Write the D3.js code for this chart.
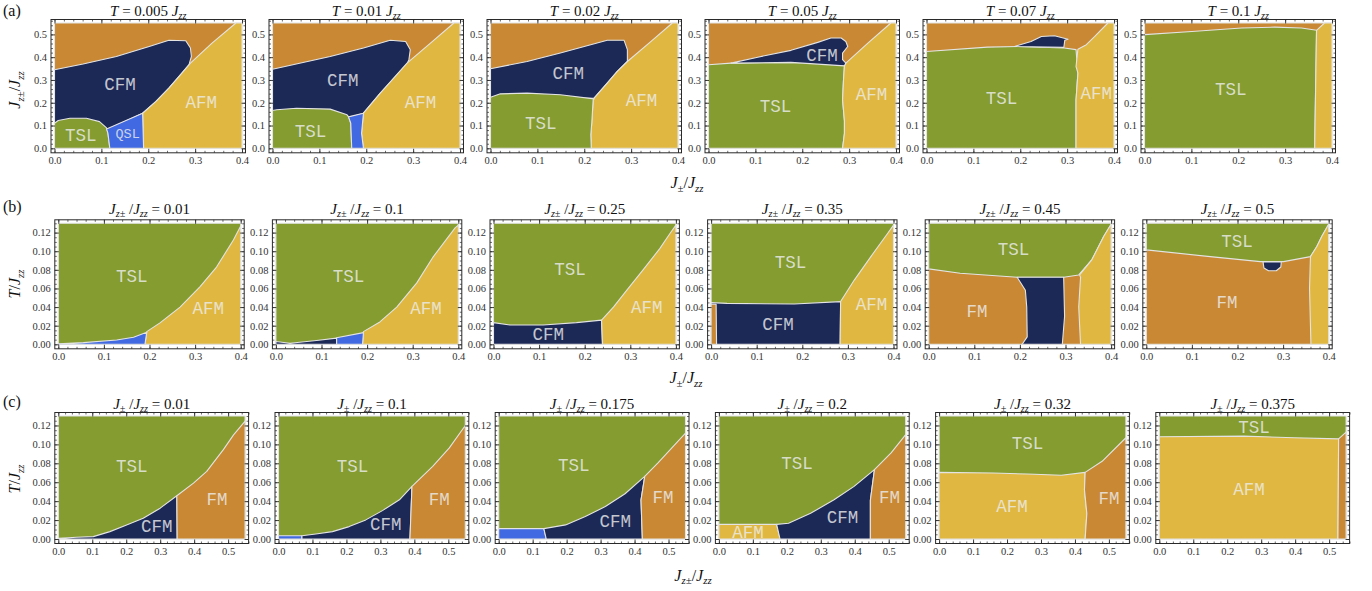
<!DOCTYPE html>
<html>
<head>
<meta charset="utf-8">
<script src="https://cdn.jsdelivr.net/npm/d3@7"></script>
<style>
body { margin: 0; background: #fff; }
svg text { font-family: 'Liberation Serif', 'Times New Roman', serif; }
</style>
</head>
<body>
<svg id="chart" width="1372" height="591"></svg>
<script>
// phases
const phaseNames = ['FM', 'CFM', 'AFM', 'TSL', 'QSL']
const phaseColors = ['#c98833', '#1c2957', '#e0b841', '#849c30', '#4169e1']

// axis extents and ticks
const jpmRange = [0, 0.4]
const jzpmRange = [0, 0.55]
const tempRange = [0, 0.13]
const jpmTicks = [0, 0.1, 0.2, 0.3, 0.4]
const jzpmYTicks = [0, 0.1, 0.2, 0.3, 0.4, 0.5]
const jzpmXTicks = [0, 0.1, 0.2, 0.3, 0.4, 0.5]
const tempTicks = [0, 0.02, 0.04, 0.06, 0.08, 0.10, 0.12]

// panel parameters
const rowATitles = ['0.005', '0.01', '0.02', '0.05', '0.07', '0.1']
const rowBTitles = ['0.01', '0.1', '0.25', '0.35', '0.45', '0.5']
const rowCTitles = ['0.01', '0.1', '0.175', '0.2', '0.32', '0.375']

// phase filling the whole panel before the regions are laid on top
const rowABases = ['FM', 'FM', 'FM', 'FM', 'FM', 'FM']
const rowBBases = ['TSL', 'TSL', 'TSL', 'TSL', 'FM', 'FM']
const rowCBases = ['TSL', 'TSL', 'TSL', 'TSL', 'TSL', 'TSL']

// (a) x = J+-/Jzz, y = Jz+-/Jzz
const a1Regions = [
	['CFM', [[0,0.345],[0.061,0.37],[0.132,0.403],[0.202,0.447],[0.244,0.474],[0.28,0.472],[0.29,0.44],[0.292,0.403],[0.287,0.367],[0.269,0.323],[0.244,0.264],[0.216,0.205],[0.188,0.154],[0.114,0.082],[0,0.1]]],
	['AFM', [[0.387,0.55],[0.4,0.55],[0.4,0],[0.19,0],[0.188,0.154],[0.216,0.205],[0.244,0.264],[0.269,0.323],[0.29,0.374],[0.336,0.462]]],
	['TSL', [[0,0],[0,0.11],[0.008,0.122],[0.033,0.132],[0.068,0.132],[0.096,0.117],[0.111,0.09],[0.114,0.066],[0.118,0]]],
	['QSL', [[0.118,0],[0.114,0.066],[0.111,0.085],[0.188,0.154],[0.19,0]]]
]
const a1Labels = [['CFM',0.14,0.279],['AFM',0.313,0.198],['TSL',0.056,0.054],['QSL',0.156,0.059]]

const a2Regions = [
	['CFM', [[0,0.347],[0.123,0.403],[0.194,0.44],[0.251,0.474],[0.284,0.469],[0.294,0.433],[0.291,0.389],[0.287,0.371],[0.23,0.242],[0.194,0.154],[0.166,0.136],[0,0.15]]],
	['AFM', [[0.387,0.55],[0.4,0.55],[0.4,0],[0.194,0],[0.19,0.066],[0.194,0.154],[0.23,0.242],[0.287,0.374],[0.337,0.462]]],
	['TSL', [[0,0],[0,0.166],[0.009,0.169],[0.051,0.176],[0.123,0.172],[0.159,0.147],[0.162,0.139],[0.167,0.11],[0.169,0]]],
	['QSL', [[0.169,0],[0.167,0.11],[0.162,0.139],[0.166,0.14],[0.194,0.154],[0.19,0.066],[0.194,0]]]
]
const a2Labels = [['CFM',0.15,0.296],['AFM',0.316,0.198],['TSL',0.081,0.073]]

const a3Regions = [
	['CFM', [[0,0.349],[0.078,0.381],[0.149,0.418],[0.249,0.474],[0.285,0.474],[0.292,0.433],[0.292,0.381],[0.27,0.337],[0.249,0.286],[0.221,0.22],[0,0.22]]],
	['AFM', [[0.388,0.55],[0.4,0.55],[0.4,0],[0.215,0],[0.214,0.06],[0.216,0.11],[0.219,0.213],[0.221,0.22],[0.249,0.286],[0.27,0.337],[0.292,0.381],[0.34,0.465]]],
	['TSL', [[0,0],[0,0.224],[0.021,0.239],[0.078,0.242],[0.149,0.235],[0.221,0.217],[0.219,0.213],[0.216,0.11],[0.214,0.06],[0.215,0]]]
]
const a3Labels = [['CFM',0.166,0.327],['AFM',0.322,0.208],['TSL',0.107,0.107]]

const a4Regions = [
	['TSL', [[0,0],[0,0.367],[0.048,0.374],[0.176,0.377],[0.276,0.371],[0.29,0.362],[0.288,0.3],[0.286,0.213],[0.29,0.12],[0.29,0.066],[0.286,0]]],
	['AFM', [[0.389,0.55],[0.4,0.55],[0.4,0],[0.286,0],[0.29,0.066],[0.29,0.12],[0.286,0.213],[0.288,0.3],[0.29,0.362],[0.293,0.374],[0.34,0.462]]],
	['CFM', [[0.048,0.374],[0.105,0.4],[0.176,0.43],[0.233,0.465],[0.261,0.484],[0.283,0.484],[0.293,0.469],[0.297,0.447],[0.286,0.418],[0.286,0.389],[0.293,0.374],[0.29,0.362],[0.176,0.377]]]
]
const a4Labels = [['CFM',0.242,0.403],['AFM',0.348,0.232],['TSL',0.143,0.183]]

const a5Regions = [
	['TSL', [[0,0],[0,0.425],[0.13,0.444],[0.195,0.447],[0.294,0.44],[0.319,0.433],[0.323,0.33],[0.319,0.213],[0.319,0]]],
	['AFM', [[0.387,0.55],[0.4,0.55],[0.4,0],[0.319,0],[0.319,0.213],[0.323,0.33],[0.319,0.359],[0.323,0.435],[0.341,0.455],[0.359,0.491]]],
	['CFM', [[0.188,0.447],[0.223,0.469],[0.245,0.491],[0.273,0.494],[0.302,0.479],[0.295,0.474],[0.293,0.443]]]
]
const a5Labels = [['TSL',0.16,0.217],['AFM',0.362,0.239]]

const a6Regions = [
	['TSL', [[0,0],[0,0.499],[0.101,0.513],[0.207,0.528],[0.278,0.532],[0.335,0.528],[0.367,0.518],[0.363,0]]],
	['AFM', [[0.384,0.55],[0.4,0.55],[0.4,0],[0.363,0],[0.367,0.518]]]
]
const a6Labels = [['TSL',0.184,0.254]]

// (b) x = J+-/Jzz, y = T/Jzz
const b1Regions = [
	['AFM', [[0.19,0],[0.4,0],[0.4,0.127],[0.384,0.112],[0.347,0.083],[0.311,0.062],[0.267,0.04],[0.223,0.023],[0.194,0.0136]]],
	['QSL', [[0,0],[0,0.0005],[0.055,0.0018],[0.128,0.0047],[0.165,0.0075],[0.194,0.013],[0.19,0]]]
]
const b1Labels = [['TSL',0.161,0.0727],['AFM',0.329,0.0376]]

const b2Regions = [
	['AFM', [[0.19,0],[0.4,0],[0.4,0.128],[0.393,0.125],[0.345,0.094],[0.309,0.066],[0.265,0.04],[0.228,0.024],[0.192,0.0136]]],
	['QSL', [[0.133,0],[0.133,0.007],[0.192,0.0125],[0.19,0]]],
	['CFM', [[0,0],[0,0.003],[0.031,0.0012],[0.089,0.004],[0.133,0.0066],[0.133,0]]]
]
const b2Labels = [['TSL',0.159,0.0727],['AFM',0.329,0.0376]]

const b3Regions = [
	['CFM', [[0,0],[0,0.0233],[0.036,0.0208],[0.109,0.0208],[0.182,0.0233],[0.237,0.026],[0.239,0]]],
	['AFM', [[0.239,0],[0.4,0],[0.4,0.128],[0.387,0.119],[0.365,0.103],[0.328,0.08],[0.292,0.058],[0.263,0.04],[0.237,0.026]]]
]
const b3Labels = [['TSL',0.168,0.08],['CFM',0.12,0.01],['AFM',0.336,0.039]]

const b4Regions = [
	['CFM', [[0,0],[0,0.0448],[0.035,0.044],[0.182,0.0433],[0.284,0.0459],[0.283,0]]],
	['AFM', [[0.283,0],[0.4,0],[0.4,0.128],[0.387,0.119],[0.35,0.094],[0.314,0.069],[0.284,0.0459]]],
	['FM', [[0,0],[0,0.043],[0.011,0.043],[0.012,0]]]
]
const b4Labels = [['TSL',0.174,0.0878],['CFM',0.147,0.0208],['AFM',0.352,0.0423]]

const b5Regions = [
	['TSL', [[0,0.13],[0.4,0.13],[0.4,0.129],[0.384,0.116],[0.358,0.091],[0.329,0.0745],[0.296,0.072],[0.194,0.072],[0.069,0.0763],[0,0.081]]],
	['AFM', [[0.333,0],[0.4,0],[0.4,0.129],[0.384,0.116],[0.358,0.091],[0.331,0.0745],[0.333,0.072],[0.329,0.04]]],
	['CFM', [[0.205,0],[0.216,0.008],[0.215,0.04],[0.212,0.058],[0.194,0.072],[0.296,0.072],[0.298,0.03],[0.293,0]]]
]
const b5Labels = [['TSL',0.186,0.101],['FM',0.106,0.035]]

const b6Regions = [
	['TSL', [[0,0.13],[0.4,0.13],[0.4,0.129],[0.385,0.116],[0.374,0.105],[0.36,0.0942],[0.301,0.0888],[0.25,0.0888],[0.14,0.0942],[0,0.1014]]],
	['AFM', [[0.361,0],[0.4,0],[0.4,0.129],[0.385,0.116],[0.374,0.105],[0.36,0.0942],[0.358,0.06],[0.36,0.02]]],
	['CFM', [[0.256,0.0885],[0.296,0.0885],[0.295,0.083],[0.285,0.079],[0.268,0.079],[0.258,0.082]]]
]
const b6Labels = [['TSL',0.199,0.11],['FM',0.177,0.044]]

// (c) x = Jz+-/Jzz, y = T/Jzz
const c1Regions = [
	['CFM', [[0,0],[0,0.0007],[0.054,0.0018],[0.103,0.0025],[0.152,0.0078],[0.201,0.0149],[0.25,0.022],[0.3,0.0326],[0.349,0.0457],[0.35,0]]],
	['FM', [[0.35,0],[0.349,0.0457],[0.398,0.059],[0.437,0.0715],[0.486,0.0945],[0.516,0.11],[0.55,0.1246],[0.55,0]]]
]
const c1Labels = [['TSL',0.216,0.076],['CFM',0.29,0.013],['FM',0.467,0.041]]

const c2Regions = [
	['QSL', [[0,0],[0,0.0035],[0.069,0.0035],[0.069,0]]],
	['CFM', [[0.069,0],[0.069,0.0035],[0.11,0.0053],[0.159,0.0078],[0.208,0.0131],[0.257,0.0202],[0.306,0.03],[0.356,0.0414],[0.393,0.0556],[0.387,0]]],
	['FM', [[0.387,0],[0.393,0.0556],[0.454,0.0768],[0.503,0.0963],[0.55,0.12],[0.55,0]]]
]
const c2Labels = [['TSL',0.218,0.076],['CFM',0.316,0.015],['FM',0.473,0.041]]

const c3Regions = [
	['QSL', [[0,0],[0,0.011],[0.133,0.011],[0.14,0]]],
	['CFM', [[0.14,0],[0.133,0.011],[0.197,0.0149],[0.255,0.0237],[0.314,0.0343],[0.372,0.0478],[0.43,0.0662],[0.419,0.041],[0.423,0]]],
	['FM', [[0.423,0],[0.419,0.041],[0.43,0.0662],[0.469,0.0804],[0.55,0.112],[0.55,0]]]
]
const c3Labels = [['TSL',0.221,0.0775],['CFM',0.343,0.0184],['FM',0.484,0.0432]]

const c4Regions = [
	['AFM', [[0,0],[0,0.0155],[0.17,0.0155],[0.18,0]]],
	['CFM', [[0.18,0],[0.17,0.0155],[0.205,0.0166],[0.27,0.0272],[0.339,0.0414],[0.398,0.0556],[0.458,0.0733],[0.446,0.041],[0.446,0]]],
	['FM', [[0.446,0],[0.446,0.041],[0.458,0.0733],[0.507,0.091],[0.55,0.1104],[0.55,0]]]
]
const c4Labels = [['TSL',0.23,0.0796],['CFM',0.364,0.022],['FM',0.502,0.0432],['AFM',0.086,0.006]]

const c5Regions = [
	['AFM', [[0,0],[0,0.0704],[0.16,0.0697],[0.26,0.0687],[0.36,0.0673],[0.43,0.0704],[0.428,0.052],[0.435,0.027],[0.43,0]]],
	['FM', [[0.43,0],[0.435,0.027],[0.428,0.052],[0.43,0.0704],[0.48,0.0821],[0.55,0.107],[0.55,0]]]
]
const c5Labels = [['TSL',0.26,0.1005],['AFM',0.215,0.0336],['FM',0.5,0.042]]

const c6Regions = [
	['AFM', [[0,0],[0,0.108],[0.249,0.1087],[0.398,0.107],[0.528,0.1058],[0.526,0]]],
	['FM', [[0.526,0],[0.528,0.1058],[0.55,0.113],[0.55,0]]]
]
const c6Labels = [['TSL',0.279,0.1168],['AFM',0.264,0.052]]

let svg = d3.select('#chart')

let color = d3.scaleOrdinal()
	.domain(phaseNames)
	.range(phaseColors)

// title / axis label pieces: [text, kind] where kind is n(ormal), i(talic) or sub
let jzpm = [['J','i'],['z±','sub']]
let jpm = [['J','i'],['±','sub']]
let jzz = [['J','i'],['zz','sub']]
let temp = [['T','i']]

let rows = [
	{
		tag: '(a)', titles: rowATitles, bases: rowABases,
		regions: [a1Regions, a2Regions, a3Regions, a4Regions, a5Regions, a6Regions],
		labels: [a1Labels, a2Labels, a3Labels, a4Labels, a5Labels, a6Labels],
		xDomain: jpmRange, yDomain: jzpmRange, xTicks: jpmTicks, yTicks: jzpmYTicks,
		xMinor: 0.02, yMinor: 0.02, yFmt: '.1f',
		title: v => [['T','i'],[' = ' + v + ' ','n']].concat(jzz),
		xLabel: jpm.concat([['/','n']], jzz), yLabel: jzpm.concat([['/','n']], jzz),
		left0: 54.5, step: 218, width: 187.5, top: 23, bottom: 148.3,
		titleY: 16, tagY: 16, xLabelX: 687, xLabelY: 188, yLabelY: 90
	},
	{
		tag: '(b)', titles: rowBTitles, bases: rowBBases,
		regions: [b1Regions, b2Regions, b3Regions, b4Regions, b5Regions, b6Regions],
		labels: [b1Labels, b2Labels, b3Labels, b4Labels, b5Labels, b6Labels],
		xDomain: jpmRange, yDomain: tempRange, xTicks: jpmTicks, yTicks: tempTicks,
		xMinor: 0.02, yMinor: 0.005, yFmt: '.2f',
		title: v => jzpm.concat([[' /','n']], jzz, [[' = ' + v,'n']]),
		xLabel: jpm.concat([['/','n']], jzz), yLabel: temp.concat([['/','n']], jzz),
		left0: 58.3, step: 217.6, width: 182.4, top: 223.3, bottom: 344.3,
		titleY: 213.5, tagY: 211.5, xLabelX: 686, xLabelY: 383, yLabelY: 284
	},
	{
		tag: '(c)', titles: rowCTitles, bases: rowCBases,
		regions: [c1Regions, c2Regions, c3Regions, c4Regions, c5Regions, c6Regions],
		labels: [c1Labels, c2Labels, c3Labels, c4Labels, c5Labels, c6Labels],
		xDomain: jzpmRange, yDomain: tempRange, xTicks: jzpmXTicks, yTicks: tempTicks,
		xMinor: 0.02, yMinor: 0.005, yFmt: '.2f',
		title: v => jpm.concat([[' /','n']], jzz, [[' = ' + v,'n']]),
		xLabel: jzpm.concat([['/','n']], jzz), yLabel: temp.concat([['/','n']], jzz),
		left0: 58.3, step: 220.2, width: 186.8, top: 416, bottom: 539,
		titleY: 409, tagY: 406.5, xLabelX: 693, xLabelY: 580.5, yLabelY: 479
	}
]

let writeParts = (text, parts, size) => {
	let shift = 0
	parts.forEach(([s, kind]) => {
		let target = kind === 'sub' ? size * 0.22 : 0
		text.append('tspan')
			.attr('dy', target - shift)
			.attr('font-style', kind === 'n' ? 'normal' : 'italic')
			.attr('font-size', kind === 'sub' ? size * 0.68 : size)
			.text(s)
		shift = target
	})
}

let minorTicks = (domain, step) => d3.range(0, Math.round(domain[1] / step) + 1).map(k => +(k * step).toFixed(4))

let pad = { l: 3.5, r: 3.5, t: 3.5, b: 4.5 }

rows.forEach(row => {

	row.titles.forEach((val, i) => {

		let x0 = row.left0 + row.step * i

		let x = d3.scaleLinear()
			.domain(row.xDomain)
			.range([x0, x0 + row.width])

		let y = d3.scaleLinear()
			.domain(row.yDomain)
			.range([row.bottom, row.top])

		let line = d3.line()
			.x(d => x(d[0]))
			.y(d => y(d[1]))

		let g = svg.append('g')

		let [xa, xb] = row.xDomain
		let [ya, yb] = row.yDomain
		let layers = [[row.bases[i], [[xa, ya], [xb, ya], [xb, yb], [xa, yb]]]].concat(row.regions[i])

		g.selectAll('.region')
			.data(layers)
			.enter()
			.append('path')
			.attr('class', 'region')
			.attr('d', d => line(d[1]) + 'Z')
			.attr('fill', d => color(d[0]))
			.attr('stroke', '#e4e4e4')
			.attr('stroke-width', 1.1)
			.attr('stroke-linejoin', 'round')

		g.selectAll('.phase-label')
			.data(row.labels[i])
			.enter()
			.append('text')
			.attr('class', 'phase-label')
			.attr('x', d => x(d[1]))
			.attr('y', d => y(d[2]))
			.attr('text-anchor', 'middle')
			.attr('dominant-baseline', 'central')
			.style('font-family', "'Courier New', 'Liberation Mono', monospace")
			.attr('font-size', d => d[0] === 'QSL' ? 13.5 : 17.5)
			.attr('fill', '#ececec')
			.attr('fill-opacity', 0.82)
			.text(d => d[0])

		// frame
		let fx0 = x0 - pad.l
		let fx1 = x0 + row.width + pad.r
		let fy0 = row.top - pad.t
		let fy1 = row.bottom + pad.b

		g.append('rect')
			.attr('x', fx0)
			.attr('y', fy0)
			.attr('width', fx1 - fx0)
			.attr('height', fy1 - fy0)
			.attr('fill', 'none')
			.attr('stroke', '#2a2a2a')
			.attr('stroke-width', 1)

		let xMin = minorTicks(row.xDomain, row.xMinor)
		let yMin = minorTicks(row.yDomain, row.yMinor)

		let axes = [
			[d3.axisBottom(x), 'translate(0,' + fy1 + ')', row.xTicks, xMin, true],
			[d3.axisTop(x), 'translate(0,' + fy0 + ')', row.xTicks, xMin, false],
			[d3.axisLeft(y), 'translate(' + fx0 + ',0)', row.yTicks, yMin, true],
			[d3.axisRight(y), 'translate(' + fx1 + ',0)', row.yTicks, yMin, false]
		]

		axes.forEach(([axis, tr, major, minor, withText], k) => {
			let fmt = k < 2 ? d3.format('.1f') : d3.format(row.yFmt)
			g.append('g')
				.attr('transform', tr)
				.call(axis.tickValues(minor).tickSizeInner(-2).tickSizeOuter(0).tickFormat(''))
				.call(s => s.select('.domain').remove())
				.call(s => s.selectAll('line').attr('stroke', '#2a2a2a').attr('stroke-width', 0.7))
			let ga = g.append('g')
				.attr('transform', tr)
				.call(axis.tickValues(major).tickSizeInner(-4).tickSizeOuter(0).tickPadding(4)
					.tickFormat(withText ? fmt : ''))
				.call(s => s.select('.domain').remove())
				.call(s => s.selectAll('line').attr('stroke', '#2a2a2a').attr('stroke-width', 0.9))
			ga.selectAll('text')
				.style('font-family', "'Liberation Serif', 'Times New Roman', serif")
				.attr('font-size', 10.5)
				.attr('fill', '#333')
		})

		// panel title
		let title = g.append('text')
			.attr('x', (fx0 + fx1) / 2)
			.attr('y', row.titleY)
			.attr('text-anchor', 'middle')
			.style('white-space', 'pre')
			.attr('fill', '#111')
		writeParts(title, row.title(val), 15)
	})

	svg.append('text')
		.attr('x', 3)
		.attr('y', row.tagY)
		.attr('font-size', 16)
		.attr('fill', '#111')
		.text(row.tag)

	let xl = svg.append('text')
		.attr('x', row.xLabelX)
		.attr('y', row.xLabelY)
		.attr('text-anchor', 'middle')
		.attr('fill', '#111')
	writeParts(xl, row.xLabel, 16)

	let yl = svg.append('text')
		.attr('transform', 'translate(20,' + row.yLabelY + ') rotate(-90)')
		.attr('text-anchor', 'middle')
		.attr('fill', '#111')
	writeParts(yl, row.yLabel, 16)
})
</script>
</body>
</html>
